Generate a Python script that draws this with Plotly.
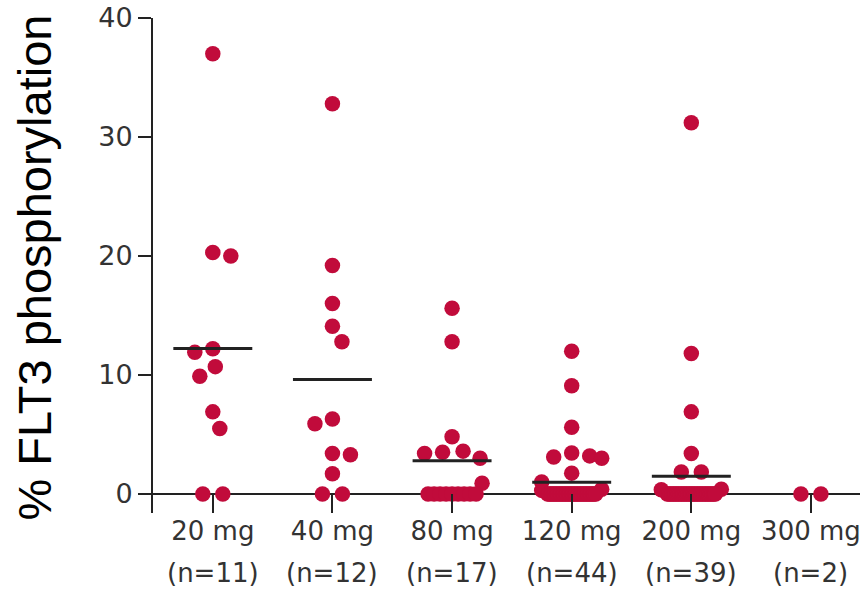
import numpy as np
import plotly.graph_objects as go

# Dose groups and per-patient % FLT3 phosphorylation
doses = ["20 mg", "40 mg", "80 mg", "120 mg", "200 mg", "300 mg"]

phos_20 = [37.0, 20.3, 20.0, 12.2, 11.9, 10.7, 9.9, 6.9, 5.5, 0, 0]
phos_40 = [32.8, 19.2, 16.0, 14.1, 12.8, 6.3, 5.9, 3.4, 3.3, 1.7, 0, 0]
phos_80 = [15.6, 12.8, 4.8, 3.6, 3.5, 3.4, 3.0, 0.9,
           0, 0, 0, 0, 0, 0, 0, 0, 0]
phos_120 = [12.0, 9.1, 5.6, 3.45, 3.2, 3.1, 3.0, 1.75, 1.0, 0.4, 0.3,
            0, 0, 0, 0, 0, 0, 0, 0, 0, 0, 0,
            0, 0, 0, 0, 0, 0, 0, 0, 0, 0, 0,
            0, 0, 0, 0, 0, 0, 0, 0, 0, 0, 0]
phos_200 = [31.2, 11.8, 6.9, 3.4, 1.85, 1.85, 0.4, 0.35,
            0, 0, 0, 0, 0, 0, 0, 0, 0, 0, 0,
            0, 0, 0, 0, 0, 0, 0, 0, 0, 0, 0,
            0, 0, 0, 0, 0, 0, 0, 0, 0]
phos_300 = [0, 0]

groups = [phos_20, phos_40, phos_80, phos_120, phos_200, phos_300]

# Figure geometry (used to lay out the swarm in screen units)
W, H = 862, 593
M_L, M_R, M_T, M_B = 153, 2, 18, 80
X_RANGE = [-0.5, 5.41]
Y_RANGE = [-1.6, 40]
PX_X = (W - M_L - M_R) / (X_RANGE[1] - X_RANGE[0])
PX_Y = (H - M_T - M_B) / (Y_RANGE[1] - Y_RANGE[0])

DOT = 15.5
DOT_COLOR = "#C10B3B"
INK = "#222222"
LABEL = "#333333"


def swarm_offsets(values, d=18.0, tie_gap=20.0, tie_half=24.0, half=30.0):
    """Horizontal offsets (px) so that dots in one column do not pile up."""
    vals = np.asarray(values, dtype=float)
    n = len(vals)
    off = np.full(n, np.nan)
    ys = vals * PX_Y
    # identical values form a centred row
    uniq, counts = np.unique(vals, return_counts=True)
    for u, c in zip(uniq, counts):
        if c < 2:
            continue
        idx = np.where(vals == u)[0]
        gap = min(tie_gap, 2 * tie_half / (c - 1))
        for k, i in enumerate(idx):
            off[i] = (k - (c - 1) / 2) * gap
    cand = np.arange(-half, half + 0.01, 0.5)
    flip = 1
    for i in np.argsort(-vals, kind="stable"):
        if not np.isnan(off[i]):
            continue
        placed = ~np.isnan(off)
        if placed.any():
            dx = cand[:, None] - off[placed][None, :]
            dy = ys[i] - ys[placed][None, :]
            mind = np.sqrt(dx ** 2 + dy ** 2).min(axis=1)
        else:
            mind = np.full(len(cand), np.inf)
        ok = mind >= d
        if ok.any():
            c_ok = cand[ok]
        else:
            c_ok = cand[mind >= mind.max() - 1e-9]
        best = min(c_ok, key=lambda c: (abs(c), -flip * c))
        off[i] = best
        if best != 0:
            flip = -flip
    return off


fig = go.Figure()

xs_all, ys_all = [], []
for gi, vals in enumerate(groups):
    off = swarm_offsets(vals)
    xs_all.extend(gi + off / PX_X)
    ys_all.extend(vals)

fig.add_trace(go.Scatter(
    x=xs_all, y=ys_all, mode="markers",
    marker=dict(size=DOT, color=DOT_COLOR, line=dict(width=0)),
    hoverinfo="y", showlegend=False,
))

# group means
for gi, vals in enumerate(groups):
    m = float(np.mean(vals))
    if m <= 0:
        continue
    fig.add_trace(go.Scatter(
        x=[gi - 0.33, gi + 0.33], y=[m, m], mode="lines",
        line=dict(color=INK, width=3), hoverinfo="skip", showlegend=False,
    ))

# patient counts under each dose label
for gi, vals in enumerate(groups):
    fig.add_annotation(
        x=gi, xref="x", y=(513 - 573) / (H - M_T - M_B), yref="paper",
        text=f"(n={len(vals)})", showarrow=False, yanchor="middle",
        font=dict(family="DejaVu Sans", size=26, color=LABEL),
    )

fig.add_annotation(
    text="% FLT3 phosphorylation", textangle=-90, showarrow=False,
    xref="paper", yref="paper", x=(34 - M_L) / (W - M_L - M_R), y=0.496,
    xanchor="center", yanchor="middle",
    font=dict(family="Liberation Sans, Arial", size=47, color="#000000"),
)

fig.update_layout(
    width=W, height=H,
    margin=dict(l=M_L, r=M_R, t=M_T, b=M_B, pad=0),
    paper_bgcolor="white", plot_bgcolor="white",
    xaxis=dict(
        range=X_RANGE, tickmode="array", tickvals=list(range(len(doses))),
        ticktext=doses, ticks="inside", ticklen=19, tickwidth=2,
        tickcolor=INK, showline=False, showgrid=False, zeroline=False,
        tickfont=dict(family="DejaVu Sans", size=26, color=LABEL),
        fixedrange=True,
    ),
    yaxis=dict(
        range=Y_RANGE, tickmode="array", tickvals=[0, 10, 20, 30, 40],
        ticks="outside", ticklen=13, tickwidth=2, tickcolor=INK,
        showline=True, linewidth=2, linecolor=INK,
        zeroline=True, zerolinewidth=2, zerolinecolor=INK,
        showgrid=False,
        tickfont=dict(family="DejaVu Sans", size=27, color=LABEL),
        fixedrange=True,
    ),
)

fig.write_html("out.html")
